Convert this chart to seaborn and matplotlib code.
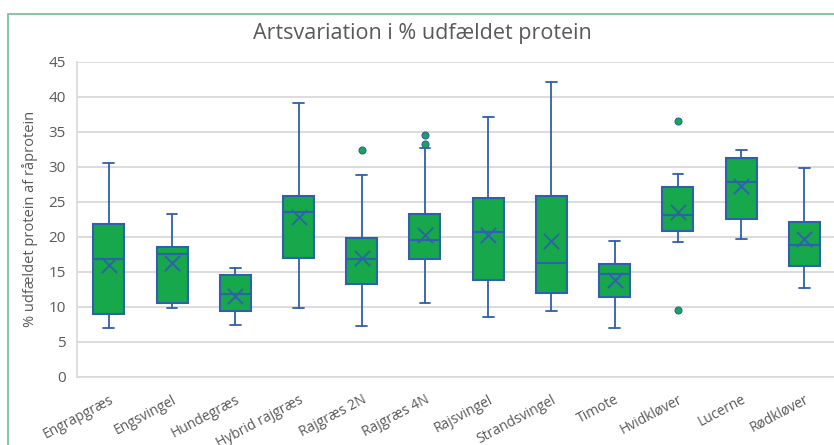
"""
Artsvariation i % udfældet protein - boxplot pr. art
"""
import matplotlib
matplotlib.use("Agg")
import matplotlib.pyplot as plt
import matplotlib.patches as mpatches
import pandas as pd
import seaborn as sns

arter = ["Engrapgræs", "Engsvingel", "Hundegræs", "Hybrid rajgræs", "Rajgræs 2N",
         "Rajgræs 4N", "Rajsvingel", "Strandsvingel", "Timote", "Hvidkløver",
         "Lucerne", "Rødkløver"]
minimum = [7.0, 9.9, 7.4, 9.9, 7.3, 10.6, 8.5, 9.4, 7.0, 19.3, 19.7, 12.7]
q1 = [9.0, 10.6, 9.4, 17.0, 13.3, 16.9, 13.9, 12.0, 11.4, 20.8, 22.6, 15.9]
median = [16.8, 17.5, 11.8, 23.5, 16.9, 19.5, 20.7, 16.2, 14.7, 23.1, 27.9, 18.9]
q3 = [21.9, 18.6, 14.5, 25.9, 19.9, 23.3, 25.5, 25.9, 16.1, 27.1, 31.2, 22.1]
maximum = [30.5, 23.2, 15.5, 39.1, 28.9, 32.7, 37.1, 42.1, 19.4, 29.0, 32.4, 29.9]
middel = [16.0, 16.2, 11.6, 22.8, 17.0, 20.3, 20.2, 19.4, 13.9, 23.6, 27.2, 19.7]
outliers = {"Rajgræs 2N": [32.4], "Rajgræs 4N": [34.6, 33.3],
            "Hvidkløver": [36.6, 9.5]}

GREEN = "#16a84a"
BLUE = "#2f5faf"
GREY = "#595959"

sns.set_theme(style="whitegrid")
plt.rcParams["font.family"] = ["Open Sans", "DejaVu Sans"]

fig = plt.figure(figsize=(8.34, 4.45), dpi=100)
ax = fig.add_axes([0.0925, 0.153, 0.91, 0.708])

stats = []
for i, art in enumerate(arter):
    stats.append({"label": art, "whislo": minimum[i], "q1": q1[i], "med": median[i],
                  "q3": q3[i], "whishi": maximum[i], "fliers": outliers.get(art, [])})

ax.bxp(stats, positions=range(len(arter)), widths=0.49, patch_artist=True,
       showfliers=True, showcaps=True,
       boxprops=dict(facecolor=GREEN, edgecolor=BLUE, linewidth=1.5),
       medianprops=dict(color=BLUE, linewidth=1.5),
       whiskerprops=dict(color=BLUE, linewidth=1.3),
       capprops=dict(color=BLUE, linewidth=1.3),
       capwidths=0.17,
       flierprops=dict(marker="o", markerfacecolor=GREEN, markeredgecolor=BLUE,
                       markersize=5, markeredgewidth=0.8))

means = pd.DataFrame({"pos": range(len(arter)), "middel": middel})
sns.scatterplot(data=means, x="pos", y="middel", marker="x", s=120, color=BLUE,
                linewidth=1.3, ax=ax, zorder=5)

ax.set_xlim(-0.5, len(arter) - 0.5)
ax.set_ylim(0, 45)
ax.set_yticks(range(0, 46, 5))
ax.set_xticks(range(len(arter)))
ax.set_xticklabels(arter, rotation=28, ha="right", rotation_mode="anchor",
                   fontsize=10, color=GREY)
ax.tick_params(axis="y", labelsize=11, labelcolor=GREY, pad=2)
ax.tick_params(axis="x", pad=5)
ax.set_xlabel("")
ax.set_ylabel("% udfældet protein af råprotein", fontsize=10.5, color=GREY, labelpad=8)

ax.grid(axis="y", color="#d9d9d9", linewidth=1.3)
ax.grid(axis="x", visible=False)
ax.set_axisbelow(True)
for side in ["top", "right"]:
    ax.spines[side].set_visible(False)
for side in ["left", "bottom"]:
    ax.spines[side].set_color("#d9d9d9")
    ax.spines[side].set_linewidth(1.2)

fig.text(0.506, 0.925, "Artsvariation i % udfældet protein", ha="center", va="center",
         fontsize=15.5, color=GREY)

# grøn ramme om diagrammet (beskåret i højre side og forneden)
fig.patches.append(mpatches.Rectangle((8 / 834, -0.1), 1.1, 1.1 - 14 / 445,
                                      transform=fig.transFigure, fill=False,
                                      edgecolor="#6cc095", linewidth=1.2))

fig.savefig("out.png", dpi=100)
print("saved out.png")
